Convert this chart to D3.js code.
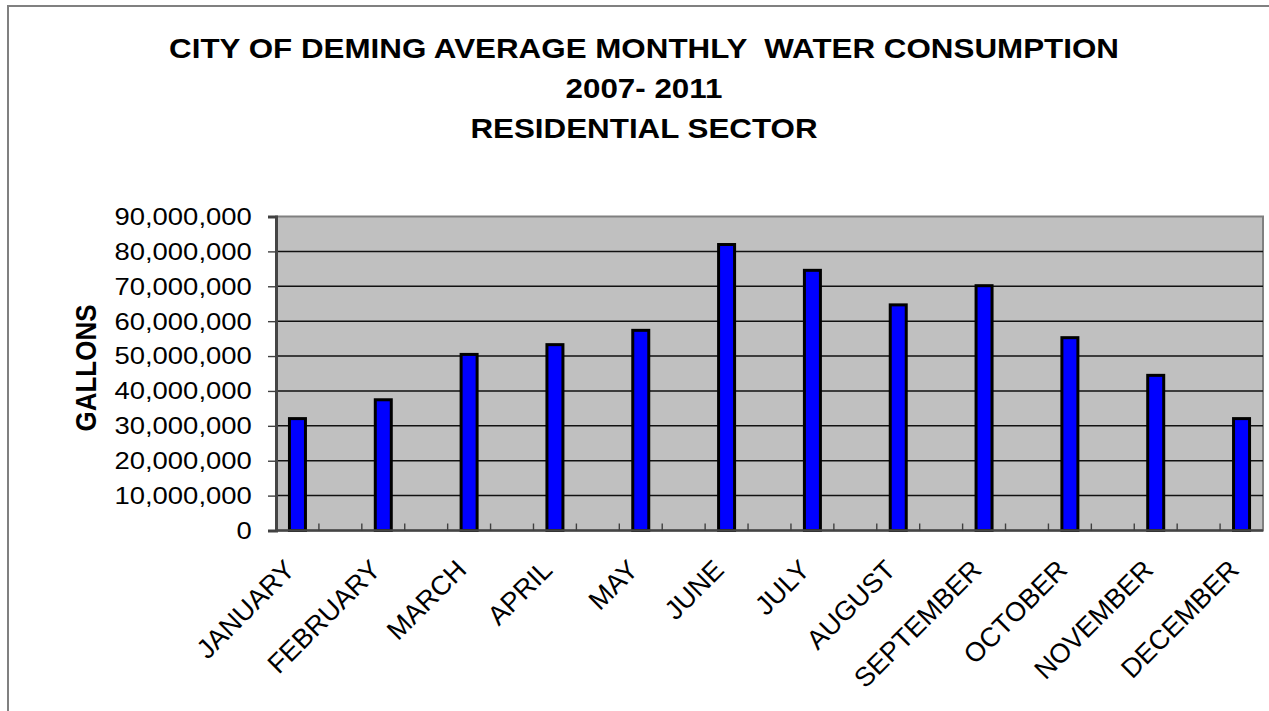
<!DOCTYPE html>
<html>
<head>
<meta charset="utf-8">
<script src="https://cdn.jsdelivr.net/npm/d3@7"></script>
<style>
  body { margin: 0; background: #fff; }
  svg { display: block; }
  text { font-family: "Liberation Sans", Arial, sans-serif; fill: #000; }
</style>
</head>
<body>
<div id="chart"></div>
<script>
// data
const months = ["JANUARY", "FEBRUARY", "MARCH", "APRIL", "MAY", "JUNE",
  "JULY", "AUGUST", "SEPTEMBER", "OCTOBER", "NOVEMBER", "DECEMBER"]
const gallons = [32500000, 37900000, 50900000, 53700000, 57800000, 82400000,
  75000000, 65100000, 70600000, 55700000, 44900000, 32500000]
const yTicks = [0, 10000000, 20000000, 30000000, 40000000, 50000000,
  60000000, 70000000, 80000000, 90000000]
const titleLines = ["CITY OF DEMING AVERAGE MONTHLY  WATER CONSUMPTION",
  "2007- 2011", "RESIDENTIAL SECTOR"]
const yTitle = "GALLONS"

const W = 1269, H = 711
const margin = {top: 216.5, right: 6, bottom: 180.5, left: 276}
const width = W - margin.left - margin.right
const height = H - margin.top - margin.bottom
// the source image is a bit wider than tall, most text gets stretched the same way
const sx = 1.12

const svg = d3.select("#chart").append("svg")
    .attr("width", W)
    .attr("height", H)

// outer frame, cut off on right and bottom like the picture
svg.append("rect")
    .attr("x", 8).attr("y", 6)
    .attr("width", W + 20).attr("height", H + 20)
    .attr("fill", "none")
    .attr("stroke", "#808080")
    .attr("stroke-width", 2)

// title
svg.append("g").selectAll("text")
    .data(titleLines)
    .enter()
    .append("text")
      .attr("transform", (d, i) => "translate(644," + (58 + i * 40) + ") scale(" + sx + ",1)")
      .attr("text-anchor", "middle")
      .attr("font-weight", "bold")
      .attr("font-size", "28px")
      .attr("xml:space", "preserve")
      .style("white-space", "pre")
      .text(d => d)

const g = svg.append("g")
    .attr("transform", "translate(" + margin.left + "," + margin.top + ")")

// 12 months sit on every other slot of 23 slots
let x = d3.scaleBand()
    .domain(d3.range(months.length * 2 - 1))
    .range([0, width])
let y = d3.scaleLinear()
    .domain([0, 90000000])
    .range([height, 0])

// plot area
g.append("rect")
    .attr("width", width)
    .attr("height", height)
    .attr("fill", "#c0c0c0")
    .attr("stroke", "#808080")
    .attr("stroke-width", 2)

// grid lines
g.append("g").selectAll("line")
    .data(yTicks.filter(d => d > 0 && d < 90000000))
    .enter()
    .append("line")
      .attr("x1", 0).attr("x2", width)
      .attr("y1", d => y(d)).attr("y2", d => y(d))
      .attr("stroke", "#111")
      .attr("stroke-width", 1.5)

// y axis
let yAxis = g.append("g")
    .call(d3.axisLeft(y).tickValues(yTicks).tickSize(8).tickPadding(14)
      .tickFormat(d3.format(",")))
yAxis.select(".domain").attr("stroke", "#454545").attr("stroke-width", 3)
yAxis.selectAll(".tick line").attr("stroke", "#404040").attr("stroke-width", 1.4)
yAxis.selectAll(".tick text")
    .attr("font-size", "24.5px")
    .attr("font-family", "Liberation Sans, Arial, sans-serif")
    .attr("fill", "#000")
    .attr("transform", "translate(-22,0) scale(" + sx + ",1)")
    .attr("x", -2)

// bars
const barW = 16
g.append("g").selectAll("rect")
    .data(gallons)
    .enter()
    .append("rect")
      .attr("x", (d, i) => x(i * 2) + x.bandwidth() / 2 - barW / 2)
      .attr("y", d => y(d) + 1.5)
      .attr("width", barW)
      .attr("height", d => height - y(d) - 1.5)
      .attr("fill", "#0000ff")
      .attr("stroke", "#000")
      .attr("stroke-width", 3)

// x axis line + small inside ticks at every slot boundary
g.append("line")
    .attr("x1", 0).attr("x2", width)
    .attr("y1", height).attr("y2", height)
    .attr("stroke", "#454545")
    .attr("stroke-width", 2.5)
g.append("g").selectAll("line")
    .data(x.domain().slice(1))
    .enter()
    .append("line")
      .attr("x1", d => x(d)).attr("x2", d => x(d))
      .attr("y1", height).attr("y2", height - 7)
      .attr("stroke", "#404040")
      .attr("stroke-width", 1.4)

// month labels, slanted at 45 degrees
g.append("g").selectAll("text")
    .data(months)
    .enter()
    .append("text")
      .attr("transform", (d, i) => "translate(" + (x(i * 2) + x.bandwidth() / 2 - 1) + "," + (height + 41) +
        ") rotate(-45)")
      .attr("text-anchor", "end")
      .attr("font-size", "27px")
      .text(d => d)

// y title
svg.append("text")
    .attr("transform", "translate(96,368) scale(" + sx + ",1) rotate(-90)")
    .attr("text-anchor", "middle")
    .attr("font-weight", "bold")
    .attr("font-size", "26px")
    .text(yTitle)
</script>
</body>
</html>
